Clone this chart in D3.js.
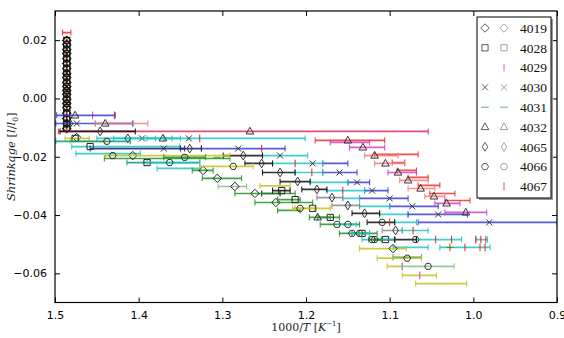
<!DOCTYPE html>
<html><head><meta charset="utf-8">
<script src="https://cdn.jsdelivr.net/npm/d3@7"></script>
<style>body{margin:0;background:#fff}svg{display:block}</style>
</head><body>
<svg id="c" width="564" height="338"></svg>
<script>
// ---------------- DATA ----------------
const seriesNames = ["4019","4028","4029","4030","4031","4032","4065","4066","4067"];
const xTicks = [1.5, 1.4, 1.3, 1.2, 1.1, 1.0, 0.9];
const yTicks = [0.02, 0.00, -0.02, -0.04, -0.06];

// vertical stack of early measurements at 1000/T ~ 1.486
const stackX = 1.486;
const stackY = [0.0199, 0.0185, 0.0168, 0.0154, 0.0137, 0.0120, 0.0103, 0.0086, 0.0072, 0.0055,
  0.0041, 0.0027, 0.0014, -0.0003, -0.0017, -0.0031, -0.0051, -0.0069, -0.0086, -0.0103];

// records: [x, y, xLeft, xRight, errorbar colour key]
const s4019 = [
  [1.474, -0.0134, 1.474, 1.474, "k"], [1.407, -0.0196, 1.407, 1.407, "k"],
  [1.323, -0.0247, 1.336, 1.311, "g"], [1.306, -0.0274, 1.324, 1.277, "g"],
  [1.285, -0.0302, 1.305, 1.271, "lg"], [1.261, -0.0326, 1.285, 1.213, "g"],
  [1.236, -0.0357, 1.261, 1.192, "g"], [1.096, -0.0515, 1.136, 1.080, "y"]
];
const s4028 = [
  [1.476, -0.0137, 1.488, 1.459, "y"], [1.458, -0.0165, 1.480, 1.351, "c"],
  [1.390, -0.0220, 1.414, 1.327, "t"], [1.229, -0.0316, 1.240, 1.219, "k"],
  [1.213, -0.0347, 1.234, 1.207, "g"], [1.192, -0.0377, 1.213, 1.171, "y"],
  [1.171, -0.0408, 1.186, 1.160, "g"], [1.133, -0.0463, 1.145, 1.124, "c"],
  [1.105, -0.0484, 1.118, 1.094, "k"]
];
const s4029 = [
  [1.455, -0.0058, 1.455, 1.455, "m"], [1.085, -0.0576, 1.085, 1.085, "m"],
  [1.064, -0.0607, 1.085, 1.044, "y"]
];
const s4030 = [
  [1.474, -0.0086, 1.499, 1.407, "b"], [1.396, -0.0137, 1.430, 1.360, "c"],
  [1.340, -0.0137, 1.370, 1.201, "c"], [1.370, -0.0172, 1.458, 1.345, "nv"],
  [1.281, -0.0172, 1.325, 1.225, "b"], [1.231, -0.0196, 1.252, 1.198, "c"],
  [1.192, -0.0223, 1.240, 1.180, "c"], [1.160, -0.0254, 1.213, 1.180, "c"],
  [1.139, -0.0288, 1.195, 1.150, "c"], [1.121, -0.0316, 1.175, 1.130, "c"],
  [1.100, -0.0343, 1.156, 1.136, "c"], [1.073, -0.0370, 1.136, 1.100, "c"],
  [1.042, -0.0398, 1.078, 1.007, "b"], [0.981, -0.0425, 1.066, 0.900, "b"]
];
const s4031 = [
  [1.028, -0.0511, 1.028, 1.028, "g"], [1.306, -0.0202, 1.306, 1.306, "g"]
];
const s4032 = [
  [1.476, -0.0058, 1.498, 1.428, "b"], [1.440, -0.0086, 1.452, 1.389, "pk"],
  [1.267, -0.0113, 1.496, 1.054, "p"], [1.371, -0.0137, 1.390, 1.350, "c"],
  [1.150, -0.0144, 1.189, 1.106, "r"], [1.132, -0.0168, 1.148, 1.106, "m"],
  [1.118, -0.0196, 1.130, 1.090, "pk"], [1.105, -0.0223, 1.118, 1.082, "pk"],
  [1.090, -0.0254, 1.102, 1.068, "m"], [1.078, -0.0281, 1.088, 1.054, "pk"],
  [1.063, -0.0309, 1.078, 1.046, "pk"], [1.047, -0.0336, 1.058, 1.034, "pk"],
  [1.032, -0.0360, 1.046, 1.016, "m"], [1.009, -0.0391, 1.034, 0.984, "m"],
  [1.186, -0.0408, 1.196, 1.171, "g"]
];
const s4065 = [
  [1.482, -0.0086, 1.482, 1.482, "k"], [1.446, -0.0113, 1.494, 1.404, "k"],
  [1.413, -0.0137, 1.450, 1.380, "c"], [1.339, -0.0172, 1.350, 1.325, "nv"],
  [1.275, -0.0196, 1.299, 1.252, "k"], [1.253, -0.0223, 1.273, 1.240, "k"],
  [1.231, -0.0254, 1.252, 1.213, "k"], [1.210, -0.0285, 1.231, 1.195, "k"],
  [1.187, -0.0312, 1.205, 1.175, "k"], [1.169, -0.0340, 1.187, 1.156, "gr"],
  [1.150, -0.0367, 1.169, 1.136, "gr"], [1.130, -0.0394, 1.145, 1.112, "k"],
  [1.093, -0.0453, 1.109, 1.085, "gr"]
];
const s4066 = [
  [1.438, -0.0147, 1.499, 1.410, "t"], [1.431, -0.0196, 1.440, 1.291, "y"],
  [1.345, -0.0202, 1.370, 1.320, "g"], [1.363, -0.0220, 1.390, 1.327, "c"],
  [1.287, -0.0233, 1.327, 1.263, "y"], [1.207, -0.0377, 1.216, 1.190, "y"],
  [1.109, -0.0425, 1.127, 1.094, "k"], [1.163, -0.0432, 1.183, 1.136, "g"],
  [1.150, -0.0432, 1.160, 1.140, "c"], [1.145, -0.0463, 1.160, 1.115, "g"],
  [1.136, -0.0463, 1.145, 1.124, "c"], [1.121, -0.0484, 1.133, 1.094, "c"],
  [1.118, -0.0484, 1.125, 1.110, "g"], [1.069, -0.0484, 1.094, 1.068, "k"],
  [1.079, -0.0548, 1.115, 1.062, "y"], [1.054, -0.0576, 1.085, 1.023, "lg"]
];
const s4067 = [
  [1.429, -0.0058, 1.429, 1.429, "r"], [1.327, -0.0137, 1.327, 1.327, "r"],
  [1.253, -0.0172, 1.253, 1.253, "r"], [1.213, -0.0223, 1.213, 1.213, "r"],
  [1.193, -0.0254, 1.193, 1.193, "r"], [1.156, -0.0316, 1.156, 1.156, "r"],
  [1.100, -0.0425, 1.100, 1.100, "r"], [1.072, -0.0453, 1.072, 1.072, "r"],
  [1.045, -0.0484, 1.045, 1.045, "r"], [1.026, -0.0484, 1.026, 1.026, "r"],
  [0.997, -0.0484, 0.997, 0.997, "r"], [0.991, -0.0484, 0.991, 0.991, "r"],
  [0.985, -0.0484, 0.985, 0.985, "r"], [1.028, -0.0511, 1.028, 1.028, "r"],
  [1.010, -0.0511, 1.010, 1.010, "r"], [0.992, -0.0511, 0.992, 0.992, "r"],
  [0.986, -0.0511, 0.986, 0.986, "r"]
];
// error bars whose markers are hidden under others: [y, xLeft, xRight, colour key]
const extraBars = [
  [0.0226, 1.491, 1.481, "r"],
  [-0.0086, 1.452, 1.407, "gr"], [-0.0147, 1.482, 1.440, "y"],
  [-0.0151, 1.171, 1.124, "m"], [-0.0189, 1.475, 1.398, "c"],
  [-0.0192, 1.118, 1.066, "r"], [-0.0206, 1.441, 1.291, "g"],
  [-0.0220, 1.097, 1.082, "r"], [-0.0223, 1.180, 1.150, "b"],
  [-0.0240, 1.378, 1.327, "c"], [-0.0247, 1.091, 1.068, "r"],
  [-0.0254, 1.180, 1.139, "b"], [-0.0271, 1.078, 1.054, "r"],
  [-0.0288, 1.150, 1.124, "b"], [-0.0298, 1.066, 1.040, "r"],
  [-0.0300, 1.255, 1.219, "y"], [-0.0316, 1.130, 1.102, "b"],
  [-0.0326, 1.052, 1.022, "r"], [-0.0326, 1.253, 1.231, "k"],
  [-0.0343, 1.136, 1.078, "b"], [-0.0350, 1.034, 1.004, "r"],
  [-0.0370, 1.100, 1.042, "b"], [-0.0384, 1.234, 1.207, "g"],
  [-0.0398, 1.112, 1.078, "c"], [-0.0425, 1.094, 1.068, "c"],
  [-0.0453, 1.085, 1.054, "c"], [-0.0484, 1.068, 1.014, "c"],
  [-0.0484, 0.997, 0.983, "c"], [-0.0511, 1.096, 1.054, "c"],
  [-0.0511, 1.040, 0.980, "c"], [-0.0545, 1.096, 1.062, "g"],
  [-0.0576, 1.103, 1.085, "y"], [-0.0635, 1.069, 1.008, "y"]
];

// ---------------- STYLE ----------------
const colours = {c:"#22c4c4", r:"#f03030", p:"#e62a62", b:"#3c3cd8", nv:"#1e1e78", m:"#cc44cc",
  k:"#111111", y:"#c4c424", g:"#26922a", lg:"#86bc86", gr:"#888888", pk:"#f37c7c", t:"#0c9a8a"};
const markerDefs = {
  "4019": {d:"M0,-4.2L4.2,0L0,4.2L-4.2,0Z", stroke:"#222"},
  "4028": {d:"M-3.1,-3.1h6.2v6.2h-6.2Z", stroke:"#222"},
  "4029": {d:"M0,-3.8V3.8", stroke:"#c040c0"},
  "4030": {d:"M-3,-3L3,3M-3,3L3,-3", stroke:"#333"},
  "4031": {d:"M-3.8,0H3.8", stroke:"#3c9c3c"},
  "4032": {d:"M0,-4.1L3.8,2.6L-3.8,2.6Z", stroke:"#333"},
  "4065": {d:"M0,-4.4L2.8,0L0,4.4L-2.8,0Z", stroke:"#333"},
  "4066": {d:"M3.5,0L1.75,3L-1.75,3L-3.5,0L-1.75,-3L1.75,-3Z", stroke:"#333"},
  "4067": {d:"M0,-3.8V3.8", stroke:"#e02020"}
};
const seriesData = {"4019":s4019,"4028":s4028,"4029":s4029,"4030":s4030,"4031":s4031,
  "4032":s4032,"4065":s4065,"4066":s4066,"4067":s4067};

// ---------------- CHART ----------------
const svg = d3.select("#c");
const M = {l:55, r:557, t:11, b:302.5};
const xs = d3.scaleLinear().domain([1.5, 0.9]).range([M.l, M.r]);
const ys = d3.scaleLinear().domain([-0.07, 0.03]).range([M.b, M.t]);

svg.append("defs").append("clipPath").attr("id","clip")
  .append("rect").attr("x",M.l).attr("y",M.t).attr("width",M.r-M.l).attr("height",M.b-M.t);
const plot = svg.append("g").attr("clip-path","url(#clip)");

function drawBar(g, yv, xl, xr, key) {
  if (xl === xr) return;
  const col = colours[key];
  const yy = ys(yv);
  g.append("line").attr("x1",xs(xl)).attr("x2",xs(xr)).attr("y1",yy).attr("y2",yy)
    .attr("stroke",col).attr("stroke-width",1.7).attr("stroke-opacity",0.85);
  if (Math.abs(xs(xl)-xs(xr)) > 8) {
    [xl, xr].forEach(v => g.append("line").attr("x1",xs(v)).attr("x2",xs(v))
      .attr("y1",yy-3).attr("y2",yy+3).attr("stroke",col).attr("stroke-width",1.1)
      .attr("stroke-opacity",0.9));
  }
}
function drawMarker(g, name, cx, cy, stroke, sw, scale) {
  const m = markerDefs[name];
  g.append("path").attr("d", m.d).attr("transform",`translate(${cx},${cy}) scale(${scale || 1})`)
    .attr("fill","none").attr("stroke", stroke || m.stroke).attr("stroke-width", sw || 1)
    .attr("vector-effect","non-scaling-stroke");
}

const gExtra = plot.append("g");
extraBars.forEach(b => drawBar(gExtra, b[0], b[1], b[2], b[3]));

const gStack = plot.append("g");
stackY.forEach(v => drawMarker(gStack, "4067", xs(stackX), ys(v), "#d04a1a", 2, 0.55));
stackY.forEach(v => {
  ["4028","4066","4019"].forEach(n => drawMarker(gStack, n, xs(stackX), ys(v), "#1a1a1a", 1.1));
});

seriesNames.forEach(n => {
  const g = plot.append("g");
  seriesData[n].forEach(r => drawBar(g, r[1], r[2], r[3], r[4]));
  seriesData[n].forEach(r => drawMarker(g, n, xs(r[0]), ys(r[1])));
});

// axes
const fmtY = d3.format(".2f");
const ax = svg.append("g");
ax.append("g").attr("transform",`translate(0,${M.b})`)
  .call(d3.axisBottom(xs).tickValues(xTicks).tickFormat(d3.format(".1f")).tickSizeInner(-5).tickSizeOuter(0).tickPadding(9));
ax.append("g").attr("transform",`translate(0,${M.t})`)
  .call(d3.axisTop(xs).tickValues(xTicks).tickFormat("").tickSizeInner(-5).tickSizeOuter(0));
ax.append("g").attr("transform",`translate(${M.l},0)`)
  .call(d3.axisLeft(ys).tickValues(yTicks).tickFormat(fmtY).tickSizeInner(-5).tickSizeOuter(0).tickPadding(8));
ax.append("g").attr("transform",`translate(${M.r},0)`)
  .call(d3.axisRight(ys).tickValues(yTicks).tickFormat("").tickSizeInner(-5).tickSizeOuter(0));
ax.selectAll(".domain").remove();
ax.selectAll(".tick line").attr("stroke","#000").attr("stroke-width",1);
ax.selectAll(".tick text").attr("font-family","DejaVu Sans, sans-serif").attr("font-size",11).attr("fill","#000");
svg.append("rect").attr("x",M.l).attr("y",M.t).attr("width",M.r-M.l).attr("height",M.b-M.t)
  .attr("fill","none").attr("stroke","#000").attr("stroke-width",1.2);

// axis labels
const xlab = svg.append("text").attr("x",(M.l+M.r)/2).attr("y",331).attr("text-anchor","middle")
  .attr("font-family","DejaVu Serif, serif").attr("font-size",11).attr("fill","#222");
xlab.append("tspan").text("1000/");
xlab.append("tspan").attr("font-style","italic").text("T");
xlab.append("tspan").text(" [");
xlab.append("tspan").attr("font-style","italic").text("K");
xlab.append("tspan").attr("font-size",7).attr("dy",-5).text("−1");
xlab.append("tspan").attr("dy",5).text("]");

const ylab = svg.append("text").attr("transform",`translate(15,${(M.t+M.b)/2}) rotate(-90)`)
  .attr("text-anchor","middle").attr("font-family","DejaVu Serif, serif").attr("font-size",11.5).attr("fill","#222");
ylab.append("tspan").attr("font-style","italic").text("Shrinkage");
ylab.append("tspan").text(" [");
ylab.append("tspan").attr("font-style","italic").text("l");
ylab.append("tspan").text("/");
ylab.append("tspan").attr("font-style","italic").text("l");
ylab.append("tspan").attr("font-size",7.5).attr("dy",3).text("0");
ylab.append("tspan").attr("dy",-3).text("]");

// legend
const L = {x:477, y:17, w:74, h:181};
const leg = svg.append("g");
leg.append("rect").attr("x",L.x+2).attr("y",L.y+2).attr("width",L.w).attr("height",L.h).attr("fill","#999");
leg.append("rect").attr("x",L.x).attr("y",L.y).attr("width",L.w).attr("height",L.h)
  .attr("fill","#fff").attr("stroke","#000").attr("stroke-width",1);
seriesNames.forEach((n, i) => {
  const cy = L.y + 11 + i * 19.8;
  const single = (n === "4029" || n === "4067");
  if (!single) drawMarker(leg, n, L.x + 8, cy, n === "4031" ? "#3c9c3c" : "#333", 0.8);
  drawMarker(leg, n, L.x + 27, cy, (n === "4031" || single) ? null : "#888", 0.8);
  leg.append("text").attr("x", L.x + 43).attr("y", cy).attr("dy","0.35em")
    .attr("font-family","Liberation Serif, serif").attr("font-size",13.5).attr("fill","#111").text(n);
});
</script>
</body></html>
